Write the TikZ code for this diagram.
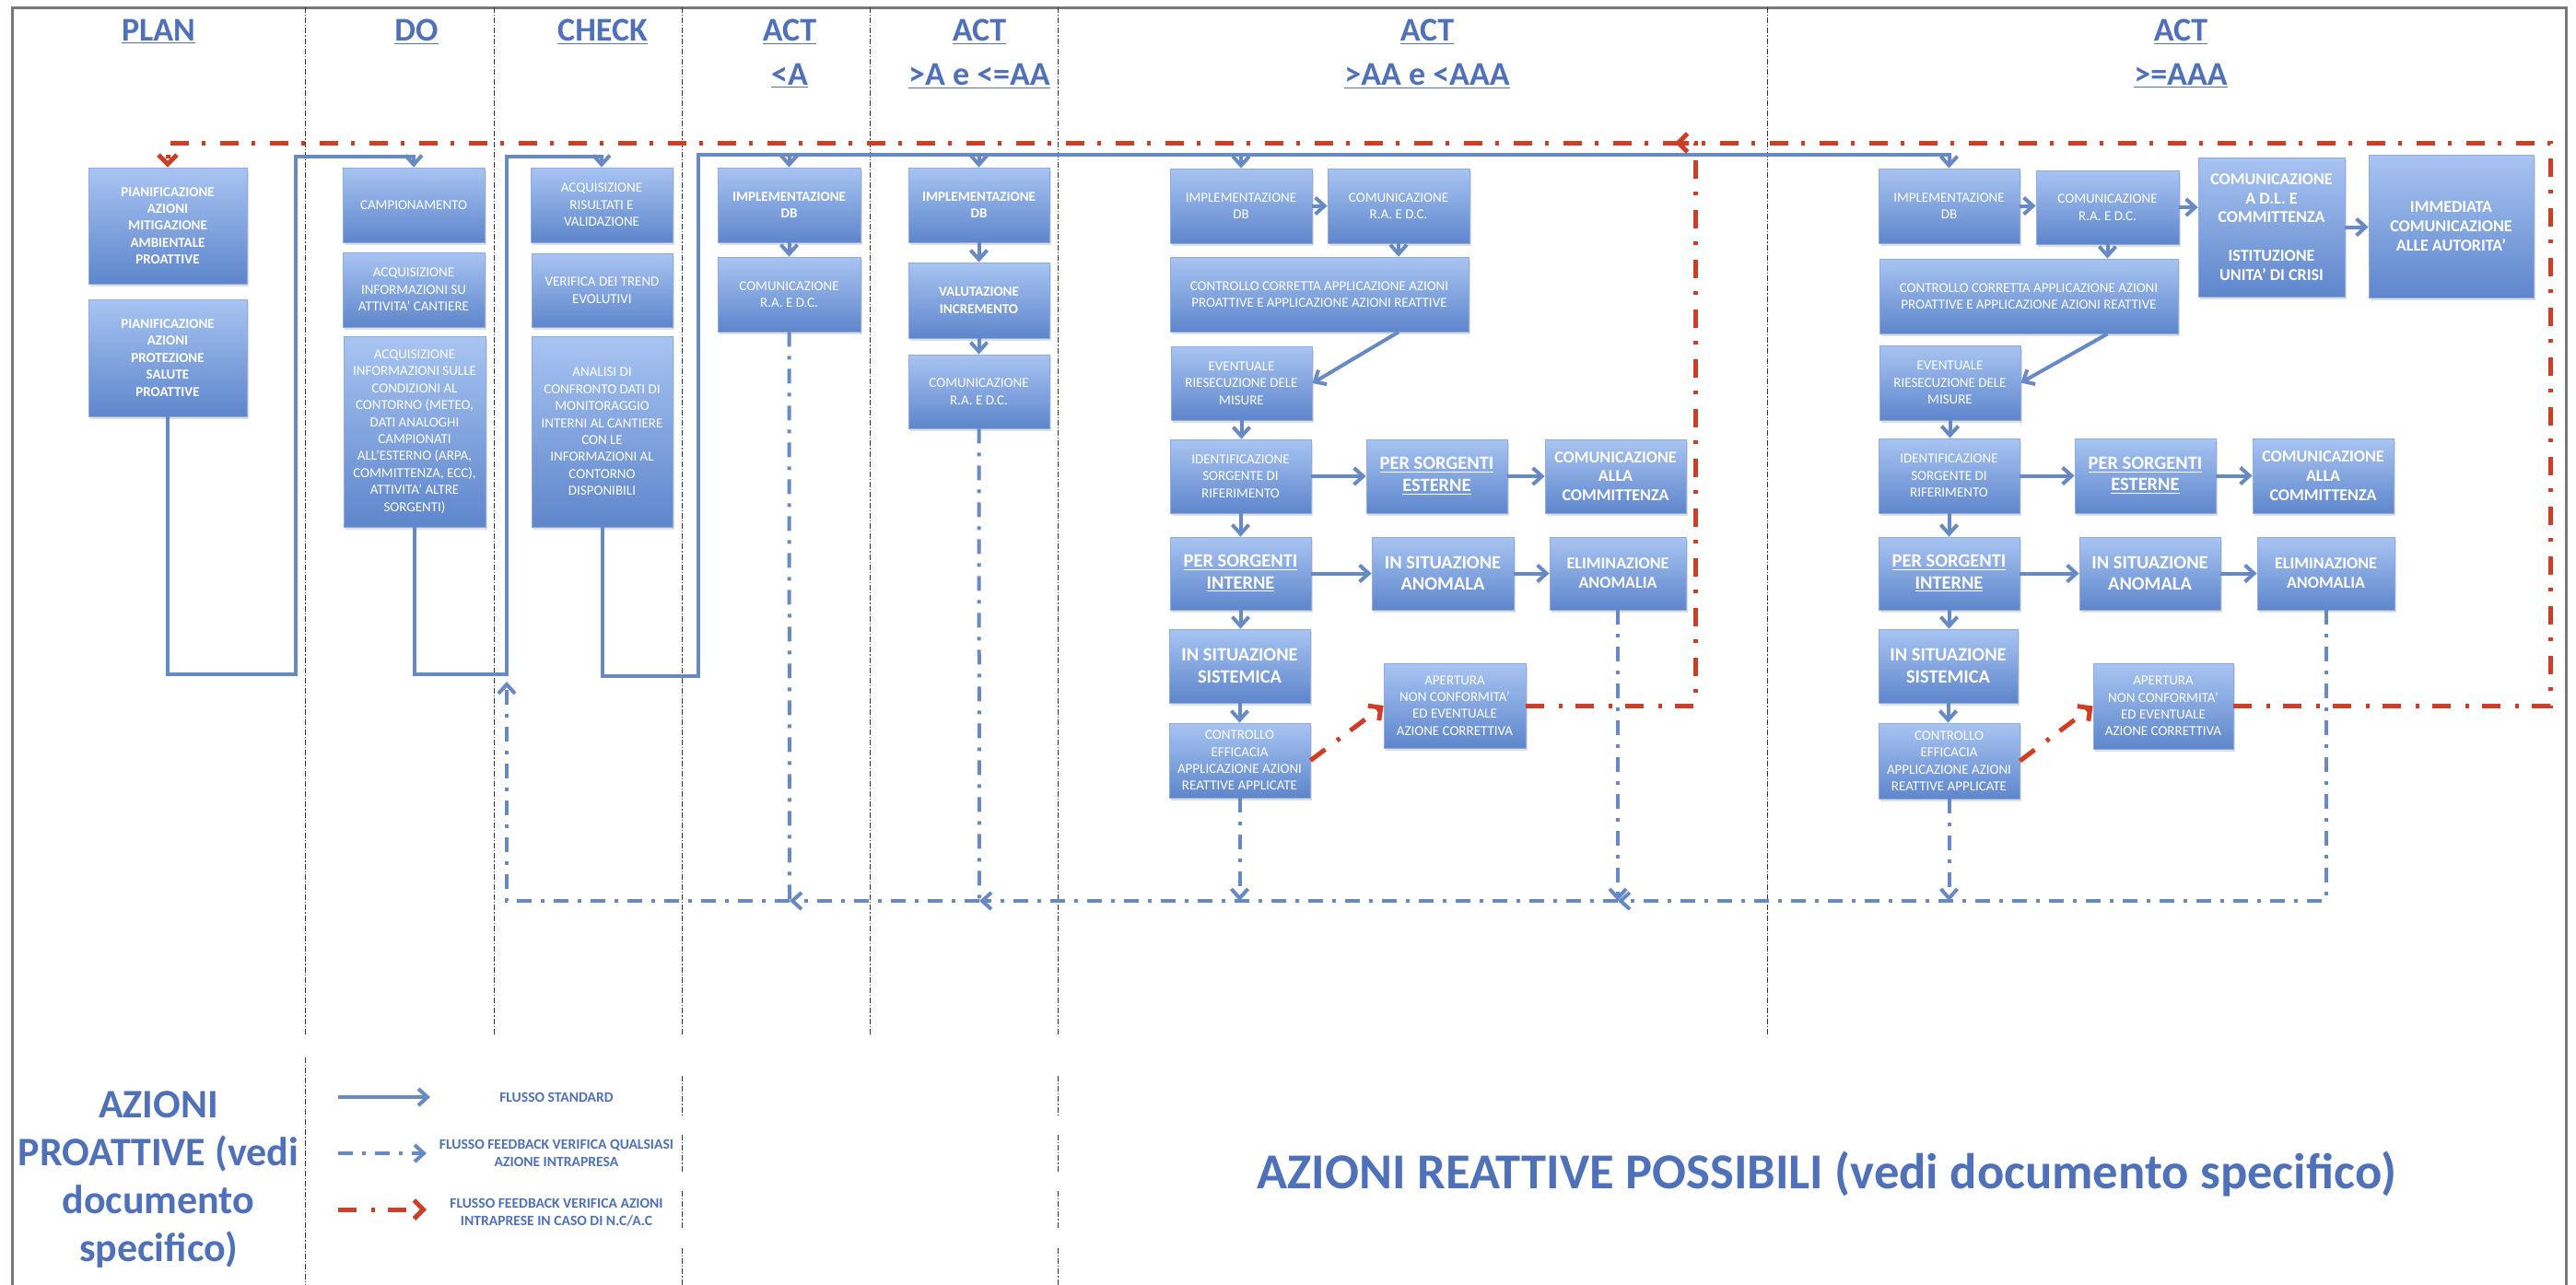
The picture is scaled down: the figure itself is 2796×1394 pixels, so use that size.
\documentclass[tikz,border=0pt]{standalone}
\usepackage{fontspec}
\setmainfont{Carlito}
\usetikzlibrary{arrows.meta,shadows}
\definecolor{hdr}{RGB}{79,113,185}
\definecolor{bxtop}{RGB}{168,196,242}
\definecolor{bxbot}{RGB}{94,134,204}
\definecolor{bxedge}{RGB}{140,172,225}
\definecolor{ln}{RGB}{104,138,196}
\definecolor{rd}{RGB}{206,62,36}
\definecolor{frm}{RGB}{120,120,120}
\newcommand\fsm{\fontsize{7.5}{9.2}\selectfont}
\newcommand\fsb{\bfseries\fontsize{7.5}{9.2}\selectfont}
\newcommand\fmd{\bfseries\fontsize{10.2}{11.8}\selectfont}
\newcommand\fms{\bfseries\fontsize{9}{10.4}\selectfont}
\newcommand\fhd{\bfseries\fontsize{18}{22}\selectfont}
\newcommand\bx[7][]{\node[boxst,#1,minimum width={(#5-#3)*0.5pt},minimum height={(#6-#4)*0.5pt}] (#2) at ({(#3+#5)/2},{(#4+#6)/2}) {#7};}
\tikzset{
 boxst/.style={rectangle, top color=bxtop, bottom color=bxbot, draw=bxedge, line width=0.4pt, text=white, align=center, inner sep=0pt, font=\fsm, drop shadow={opacity=0.25, shadow xshift=1pt, shadow yshift=-1.5pt}},
 std/.style={draw=ln, line width=2pt, -{Straight Barb[length=5pt,width=9pt]}},
 fb/.style={draw=ln, line width=2pt, dash pattern=on 8pt off 5pt on 2pt off 5pt},
 fba/.style={fb, -{Straight Barb[length=5pt,width=9pt]}},
 rfb/.style={draw=rd, line width=2.5pt, dash pattern=on 10pt off 8pt on 2pt off 7pt},
 rfba/.style={rfb, -{Straight Barb[length=5pt,width=10pt]}},
 dvd/.style={draw=black!80, line width=0.5pt, dash pattern=on 3pt off 1pt on 0.6pt off 1pt},
 hd/.style={text=hdr, font=\fhd, inner sep=0pt, anchor=base},
 lgs/.style={text=hdr, font=\bfseries\fontsize{7.8}{9.5}\selectfont, align=center, inner sep=0pt},
}
\begin{document}
\begin{tikzpicture}[x=0.5pt,y=-0.5pt]
\useasboundingbox (0,0) rectangle (2796,1394);
\fill[white] (0,0) rectangle (2796,1394);
% frame
\draw[frm, line width=1.5pt] (13,1400) -- (13,8) -- (2785,8) -- (2785,1400);
% dividers
\draw[dvd] (331,8) -- (331,1123);
\draw[dvd] (331,1148) -- (331,1400);
\draw[dvd] (536,8) -- (536,1123);
\draw[dvd] (944,8) -- (944,1123);
\draw[dvd] (1918,8) -- (1918,1123);
\foreach \xx in {740,1148}{
  \draw[dvd] (\xx,8) -- (\xx,1123);
  \draw[dvd] (\xx,1168) -- (\xx,1210);
  \draw[dvd] (\xx,1232) -- (\xx,1273);
  \draw[dvd] (\xx,1293) -- (\xx,1333);
  \draw[dvd] (\xx,1355) -- (\xx,1400);
}
% headers
\node[hd] (hplan) at (172,44) {\underline{PLAN}};
\node[hd] (hdo) at (452,44) {\underline{DO}};
\node[hd] (hcheck) at (654,44) {\underline{CHECK}};
\node[hd] (hact1) at (857,44) {\underline{ACT}};
\node[hd] (hact1b) at (857,92) {\underline{<A}};
\node[hd] (hact2) at (1063,44) {\underline{ACT}};
\node[hd] (hact2b) at (1063,92) {\underline{>A e <=AA}};
\node[hd] (hact3) at (1549,44) {\underline{ACT}};
\node[hd] (hact3b) at (1549,92) {\underline{>AA e <AAA}};
\node[hd] (hact4) at (2367,44) {\underline{ACT}};
\node[hd] (hact4b) at (2367,92) {\underline{>=AAA}};
% PLAN
\bx[font=\fsb]{P1}{96}{182}{268}{308}{PIANIFICAZIONE\\AZIONI\\MITIGAZIONE\\AMBIENTALE\\PROATTIVE}
\bx[font=\fsb]{P2}{96}{325}{268}{452}{PIANIFICAZIONE\\AZIONI\\PROTEZIONE\\SALUTE\\PROATTIVE}
% DO
\bx{D1}{372}{182}{526}{263}{CAMPIONAMENTO}
\bx{D2}{372}{274}{526}{355}{ACQUISIZIONE\\INFORMAZIONI SU\\ATTIVITA' CANTIERE}
\bx{D3}{373}{365}{527}{572}{ACQUISIZIONE\\INFORMAZIONI SULLE\\CONDIZIONI AL\\CONTORNO (METEO,\\DATI ANALOGHI\\CAMPIONATI\\ALL'ESTERNO (ARPA,\\COMMITTENZA, ECC),\\ATTIVITA' ALTRE\\SORGENTI)}
% CHECK
\bx{K1}{576}{182}{730}{263}{ACQUISIZIONE\\RISULTATI E\\VALIDAZIONE}
\bx{K2}{577}{275}{730}{355}{VERIFICA DEI TREND\\EVOLUTIVI}
\bx{K3}{577}{365}{730}{572}{ANALISI DI\\CONFRONTO DATI DI\\MONITORAGGIO\\INTERNI AL CANTIERE\\CON LE\\INFORMAZIONI AL\\CONTORNO\\DISPONIBILI}
% ACT <A
\bx[font=\fsb]{A4a}{779}{182}{934}{263}{IMPLEMENTAZIONE\\DB}
\bx{A4b}{779}{279}{934}{360}{COMUNICAZIONE\\R.A. E D.C.}
% ACT >A e <=AA
\bx[font=\fsb]{A5a}{986}{182}{1139}{263}{IMPLEMENTAZIONE\\DB}
\bx[font=\fsb]{A5b}{986}{285}{1139}{367}{VALUTAZIONE\\INCREMENTO}
\bx{A5c}{986}{385}{1139}{465}{COMUNICAZIONE\\R.A. E D.C.}
% ACT >AA e <AAA
\bx{B1}{1270}{183}{1424}{264}{IMPLEMENTAZIONE\\DB}
\bx{B2}{1441}{183}{1595}{264}{COMUNICAZIONE\\R.A. E D.C.}
\bx{B3}{1270}{279}{1594}{360}{CONTROLLO CORRETTA APPLICAZIONE AZIONI\\PROATTIVE E APPLICAZIONE AZIONI REATTIVE}
\bx{B4}{1271}{376}{1424}{456}{EVENTUALE\\RIESECUZIONE DELE\\MISURE}
\bx{B5}{1270}{477}{1423}{557}{IDENTIFICAZIONE\\SORGENTE DI\\RIFERIMENTO}
\bx[font=\fmd]{B6}{1483}{477}{1636}{557}{\underline{PER SORGENTI}\\\underline{ESTERNE}}
\bx[font=\fms]{B7}{1677}{477}{1830}{557}{COMUNICAZIONE\\ALLA\\COMMITTENZA}
\bx[font=\fmd]{B8}{1270}{583}{1423}{662}{\underline{PER SORGENTI}\\\underline{INTERNE}}
\bx[font=\fmd]{B9}{1489}{583}{1643}{662}{IN SITUAZIONE\\ANOMALA}
\bx[font=\fms]{B10}{1682}{583}{1830}{662}{ELIMINAZIONE\\ANOMALIA}
\bx[font=\fmd]{B11}{1269}{683}{1422}{763}{IN SITUAZIONE\\SISTEMICA}
\bx{B12}{1269}{785}{1422}{866}{CONTROLLO\\EFFICACIA\\APPLICAZIONE AZIONI\\REATTIVE APPLICATE}
\bx{B13}{1502}{720}{1656}{812}{APERTURA\\NON CONFORMITA'\\ED EVENTUALE\\AZIONE CORRETTIVA}
% ACT >=AAA
\bx{C1}{2039}{183}{2192}{264}{IMPLEMENTAZIONE\\DB}
\bx{C2}{2210}{185}{2365}{265}{COMUNICAZIONE\\R.A. E D.C.}
\bx[font=\fms]{C3}{2386}{171}{2545}{322}{COMUNICAZIONE\\A D.L. E\\COMMITTENZA\\[10.4pt]ISTITUZIONE\\UNITA' DI CRISI}
\bx[font=\fms]{C4}{2571}{168}{2750}{323}{IMMEDIATA\\COMUNICAZIONE\\ALLE AUTORITA'}
\bx{C5}{2040}{281}{2364}{362}{CONTROLLO CORRETTA APPLICAZIONE AZIONI\\PROATTIVE E APPLICAZIONE AZIONI REATTIVE}
\bx{C6}{2040}{375}{2193}{456}{EVENTUALE\\RIESECUZIONE DELE\\MISURE}
\bx{C7}{2039}{476}{2192}{557}{IDENTIFICAZIONE\\SORGENTE DI\\RIFERIMENTO}
\bx[font=\fmd]{C7b}{2252}{476}{2405}{557}{\underline{PER SORGENTI}\\\underline{ESTERNE}}
\bx[font=\fms]{C7c}{2445}{476}{2598}{557}{COMUNICAZIONE\\ALLA\\COMMITTENZA}
\bx[font=\fmd]{C8}{2039}{583}{2192}{662}{\underline{PER SORGENTI}\\\underline{INTERNE}}
\bx[font=\fmd]{C9}{2257}{583}{2410}{662}{IN SITUAZIONE\\ANOMALA}
\bx[font=\fms]{C10}{2450}{583}{2599}{662}{ELIMINAZIONE\\ANOMALIA}
\bx[font=\fmd]{C11}{2039}{683}{2190}{763}{IN SITUAZIONE\\SISTEMICA}
\bx{C12}{2039}{785}{2192}{867}{CONTROLLO\\EFFICACIA\\APPLICAZIONE AZIONI\\REATTIVE APPLICATE}
\bx{C13}{2272}{720}{2424}{813}{APERTURA\\NON CONFORMITA'\\ED EVENTUALE\\AZIONE CORRETTIVA}
% standard flow U-shapes
\coordinate (u1a) at (321,732); \coordinate (u1t) at (321,170);
\coordinate (u2a) at (550,732); \coordinate (u2t) at (550,170);
\coordinate (u3a) at (758,734); \coordinate (u3t) at (758,168);
\draw[std] (P2.south) |- (u1a) -- (u1t) -| (D1.north);
\draw[std] (D3.south) |- (u2a) -- (u2t) -| (K1.north);
\draw[std] (K3.south) |- (u3a) -- (u3t) -| (C1.north);
\draw[std] (A4a.north |- u3t) -- (A4a.north);
\draw[std] (A5a.north |- u3t) -- (A5a.north);
\draw[std] (B1.north |- u3t) -- (B1.north);
% standard flow inside columns
\draw[std] (A4a) -- (A4b);
\draw[std] (A5a) -- (A5b);
\draw[std] (A5b) -- (A5c);
\draw[std] (B1.east) -- (B2.west);
\draw[std] (B2.south) -- (B2.south |- B3.north);
\draw[std] (B2.south |- B3.south) -- (B4.east);
\draw[std] (B4.south) -- (B4.south |- B5.north);
\draw[std] (B5.east) -- (B6.west);
\draw[std] (B6.east) -- (B7.west);
\draw[std] (B5.south) -- (B5.south |- B8.north);
\draw[std] (B8.east) -- (B9.west);
\draw[std] (B9.east) -- (B10.west);
\draw[std] (B8.south) -- (B8.south |- B11.north);
\draw[std] (B11.south) -- (B11.south |- B12.north);
\draw[std] (C1.east) -- (C1.east -| C2.west);
\draw[std] (C2.east) -- (C2.east -| C3.west);
\draw[std] (C3.east) -- (C3.east -| C4.west);
\draw[std] (C2.south) -- (C2.south |- C5.north);
\draw[std] (C2.south |- C5.south) -- (C6.east);
\draw[std] (C6.south) -- (C6.south |- C7.north);
\draw[std] (C7.east) -- (C7.east -| C7b.west);
\draw[std] (C7b.east) -- (C7b.east -| C7c.west);
\draw[std] (C7.south) -- (C7.south |- C8.north);
\draw[std] (C8.east) -- (C8.east -| C9.west);
\draw[std] (C9.east) -- (C9.east -| C10.west);
\draw[std] (C8.south) -- (C8.south |- C11.north);
\draw[std] (C11.south) -- (C11.south |- C12.north);
% blue feedback
\coordinate (f6) at (1756,978);
\coordinate (f5) at (1063,978);
\coordinate (f4) at (857,978);
\coordinate (f0) at (550,978);
\coordinate (f0t) at (550,740);
\draw[fba] (C10.south) |- (f6);
\draw[fba] (B10.south) -- (B10.south |- f6);
\draw[fba] (f6) -- (f5);
\draw[fb] (A5c.south) -- (f5);
\draw[fba] (f5) -- (f4);
\draw[fb] (A4b.south) -- (f4);
\draw[fba] (f4) -- (f0) -- (f0t);
\draw[fba] (C12.south) -- (C12.south |- f6);
\draw[fba] (B12.south) -- (B12.south |- f6);
% red feedback
\coordinate (r1) at (1840,155);
\coordinate (r2) at (2768,155);
\coordinate (r3) at (1818,155);
\draw[rfba] (B12.east) -- (B13.west);
\draw[rfba] (C12.east) -- (C13.west);
\draw[rfba] (B13.east) -| (r1) -| (P1.north);
\draw[rfba] (C13.east) -| (r2) -- (r3);
% legend
\node[text=hdr, font=\bfseries\fontsize{22}{26}\selectfont, align=center, inner sep=0pt] (lgbig) at (172,1281) {AZIONI\\PROATTIVE (vedi\\documento\\specifico)};
\coordinate (la1) at (367,1191); \coordinate (lb1) at (467,1191);
\coordinate (la2) at (367,1252); \coordinate (lb2) at (463,1252);
\coordinate (la3) at (367,1313); \coordinate (lb3) at (463,1313);
\draw[std] (la1) -- (lb1);
\draw[fba] (la2) -- (lb2);
\draw[rfba] (la3) -- (lb3);
\node[lgs] (lg1) at (604,1191) {FLUSSO STANDARD};
\node[lgs] (lg2) at (604,1252) {FLUSSO FEEDBACK VERIFICA QUALSIASI\\AZIONE INTRAPRESA};
\node[lgs] (lg3) at (604,1316) {FLUSSO FEEDBACK VERIFICA AZIONI\\INTRAPRESE IN CASO DI N.C/A.C};
\node[text=hdr, font=\bfseries\fontsize{27.3}{32}\selectfont, inner sep=0pt, anchor=base] (reatt) at (1983,1290) {AZIONI REATTIVE POSSIBILI (vedi documento specifico)};
\end{tikzpicture}
\end{document}
